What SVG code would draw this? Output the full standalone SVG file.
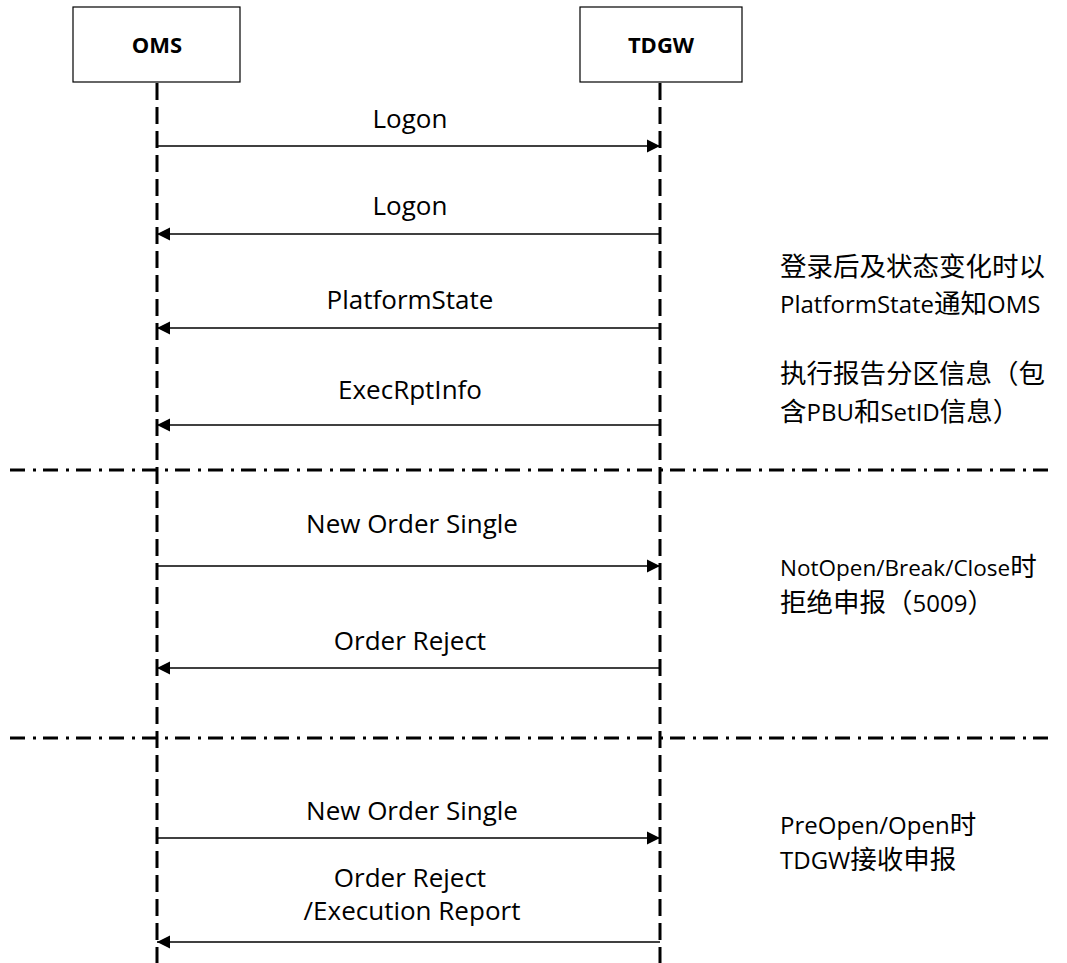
<svg xmlns="http://www.w3.org/2000/svg" width="1067" height="963" viewBox="0 0 1067 963">
<style>
.box{fill:#fff;stroke:#000;stroke-width:1.2}
.hdr{font-family:"Open Sans","Noto Sans",sans-serif;font-weight:bold;font-size:22px;text-anchor:middle;fill:#000}
.life{stroke:#000;stroke-width:3;stroke-dasharray:17 7;fill:none}
.sep{stroke:#000;stroke-width:3;stroke-dasharray:15 8 3 7;fill:none}
.msg{stroke:#000;stroke-width:1.5;fill:none}
.lbl{font-family:"Open Sans","Noto Sans",sans-serif;font-size:26px;text-anchor:middle;fill:#000}
.note{font-family:"Open Sans","Noto Sans CJK SC",sans-serif;font-size:24px;fill:#000}
.cjk{font-family:"Noto Sans CJK SC",sans-serif;font-size:26.5px}
</style>
<defs>
<marker id="ah" markerWidth="14" markerHeight="14" refX="13" refY="7" orient="auto" markerUnits="userSpaceOnUse">
<path d="M0,0.5 L13,7 L0,13.5 Z" fill="#000"/>
</marker>
</defs>
<g id="oms">
<rect class="box" x="73" y="7" width="167" height="75"/>
<text class="hdr" x="157" y="53">OMS</text>
</g>
<g id="tdgw">
<rect class="box" x="580" y="7" width="162" height="75"/>
<text class="hdr" x="661" y="53">TDGW</text>
</g>
<g id="lifelines">
<line class="life" x1="157" y1="83" x2="157" y2="963"/>
<line class="life" x1="660" y1="83" x2="660" y2="963"/>
</g>
<g id="separators">
<line class="sep" x1="10" y1="470" x2="1050" y2="470"/>
<line class="sep" x1="10" y1="738" x2="1050" y2="738"/>
</g>
<g id="connectors">
<line class="msg" x1="157" y1="146" x2="660" y2="146" marker-end="url(#ah)"/>
<line class="msg" x1="660" y1="234" x2="157" y2="234" marker-end="url(#ah)"/>
<line class="msg" x1="660" y1="328" x2="157" y2="328" marker-end="url(#ah)"/>
<line class="msg" x1="660" y1="425" x2="157" y2="425" marker-end="url(#ah)"/>
<line class="msg" x1="157" y1="566" x2="660" y2="566" marker-end="url(#ah)"/>
<line class="msg" x1="660" y1="668" x2="157" y2="668" marker-end="url(#ah)"/>
<line class="msg" x1="157" y1="838" x2="660" y2="838" marker-end="url(#ah)"/>
<line class="msg" x1="660" y1="942" x2="157" y2="942" marker-end="url(#ah)"/>
</g>
<g id="labels">
<text class="lbl" x="410" y="128">Logon</text>
<text class="lbl" x="410" y="215">Logon</text>
<text class="lbl" x="410" y="309">PlatformState</text>
<text class="lbl" x="410" y="399">ExecRptInfo</text>
<text class="lbl" x="412" y="533">New Order Single</text>
<text class="lbl" x="410" y="650">Order Reject</text>
<text class="lbl" x="412" y="820">New Order Single</text>
<text class="lbl" x="410" y="887">Order Reject</text>
<text class="lbl" x="412" y="920">/Execution Report</text>
</g>
<g id="notes">
<text class="note" x="780" y="276"><tspan class="cjk">登录后及状态变化时以</tspan></text>
<text class="note" x="780" y="313">PlatformState<tspan class="cjk">通知</tspan>OMS</text>
<text class="note" x="780" y="383"><tspan class="cjk">执行报告分区信息（包</tspan></text>
<text class="note" x="780" y="421"><tspan class="cjk">含</tspan>PBU<tspan class="cjk">和</tspan>SetID<tspan class="cjk">信息）</tspan></text>
<text class="note" x="780" y="576" style="font-size:22.5px">NotOpen/Break/Close<tspan class="cjk">时</tspan></text>
<text class="note" x="780" y="612"><tspan class="cjk">拒绝申报（</tspan>5009<tspan class="cjk">）</tspan></text>
<text class="note" x="780" y="834">PreOpen/Open<tspan class="cjk">时</tspan></text>
<text class="note" x="780" y="869">TDGW<tspan class="cjk">接收申报</tspan></text>
</g>
</svg>
